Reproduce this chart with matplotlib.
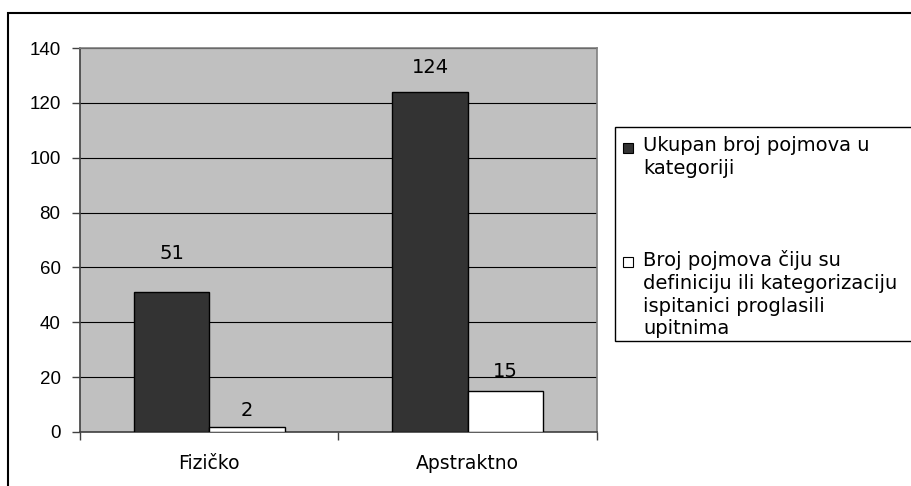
import matplotlib.pyplot as plt
import matplotlib.patches as patches
import numpy as np

# data
categories = ['Fizičko', 'Apstraktno']
ukupan = [51, 124]
upitni = [2, 15]
series_labels = ['Ukupan broj pojmova u\nkategoriji',
                 'Broj pojmova čiju su\ndefiniciju ili kategorizaciju\nispitanici proglasili\nupitnima']
y_ticks = [0, 20, 40, 60, 80, 100, 120, 140]

W, H = 912, 486
fig = plt.figure(figsize=(W / 100, H / 100), dpi=100)

# outer chart border (cut off at right and bottom, as in the reference)
fig.patches.append(patches.Rectangle((8 / W, -0.1), 1.2, 1.1 - 13 / H,
                                     transform=fig.transFigure, fill=False,
                                     edgecolor='black', linewidth=1.5))

ax = fig.add_axes([80 / W, 1 - 432 / H, (597 - 80) / W, (432 - 48) / H])
ax.set_facecolor('#C0C0C0')

x = np.arange(len(categories))
bw = 0.292
ax.bar(x - bw / 2, ukupan, bw, color='#333333', edgecolor='black', linewidth=1, zorder=3)
ax.bar(x + bw / 2, upitni, bw, color='white', edgecolor='black', linewidth=1, zorder=3)

ax.set_xlim(-0.5, 1.5)
ax.set_ylim(0, 140)
ax.set_yticks(y_ticks)
ax.set_yticklabels([str(v) for v in y_ticks], family='Liberation Sans', fontsize=13.5)
ax.yaxis.grid(True, color='black', linewidth=0.8, zorder=1)
ax.set_axisbelow(True)

ax.set_xticks(x)
ax.set_xticklabels(categories, family='DejaVu Sans', fontsize=13.5)
ax.tick_params(axis='x', which='major', length=0, pad=16)
ax.set_xticks([-0.5, 0.5, 1.5], minor=True)
ax.tick_params(axis='x', which='minor', length=6, width=1, color='#404040')
ax.tick_params(axis='y', length=6, width=1, color='#404040', pad=8)

for side in ['top', 'right']:
    ax.spines[side].set_color('#808080')
    ax.spines[side].set_linewidth(1.2)
for side in ['left', 'bottom']:
    ax.spines[side].set_color('#404040')
    ax.spines[side].set_linewidth(1.2)

# data labels (offsets in pixels above bar tops, as in the reference)
label_off = [[39, 24], [16, 19]]
for i in range(len(categories)):
    ax.annotate(str(ukupan[i]), (x[i] - bw / 2, ukupan[i]), xytext=(0, label_off[0][i]),
                textcoords='offset pixels', ha='center', va='center',
                family='DejaVu Sans', fontsize=14)
    ax.annotate(str(upitni[i]), (x[i] + bw / 2, upitni[i]), xytext=(0, label_off[1][i]),
                textcoords='offset pixels', ha='center', va='center',
                family='DejaVu Sans', fontsize=14)

# legend box drawn by hand
fig.patches.append(patches.Rectangle((615 / W, 1 - 341 / H), 0.5, (341 - 127) / H,
                                     transform=fig.transFigure, facecolor='white',
                                     edgecolor='black', linewidth=1))
marker_y = [148, 262]
colors = ['#333333', 'white']
for my, c, lab in zip(marker_y, colors, series_labels):
    fig.patches.append(patches.Rectangle((623 / W, 1 - (my + 5) / H), 10 / W, 10 / H,
                                         transform=fig.transFigure, facecolor=c,
                                         edgecolor='black', linewidth=0.8))
    fig.text(643 / W, 1 - (my - 12) / H, lab, ha='left', va='top',
             family='DejaVu Sans', fontsize=14, linespacing=1.25)

fig.savefig('out.png', dpi=100)
